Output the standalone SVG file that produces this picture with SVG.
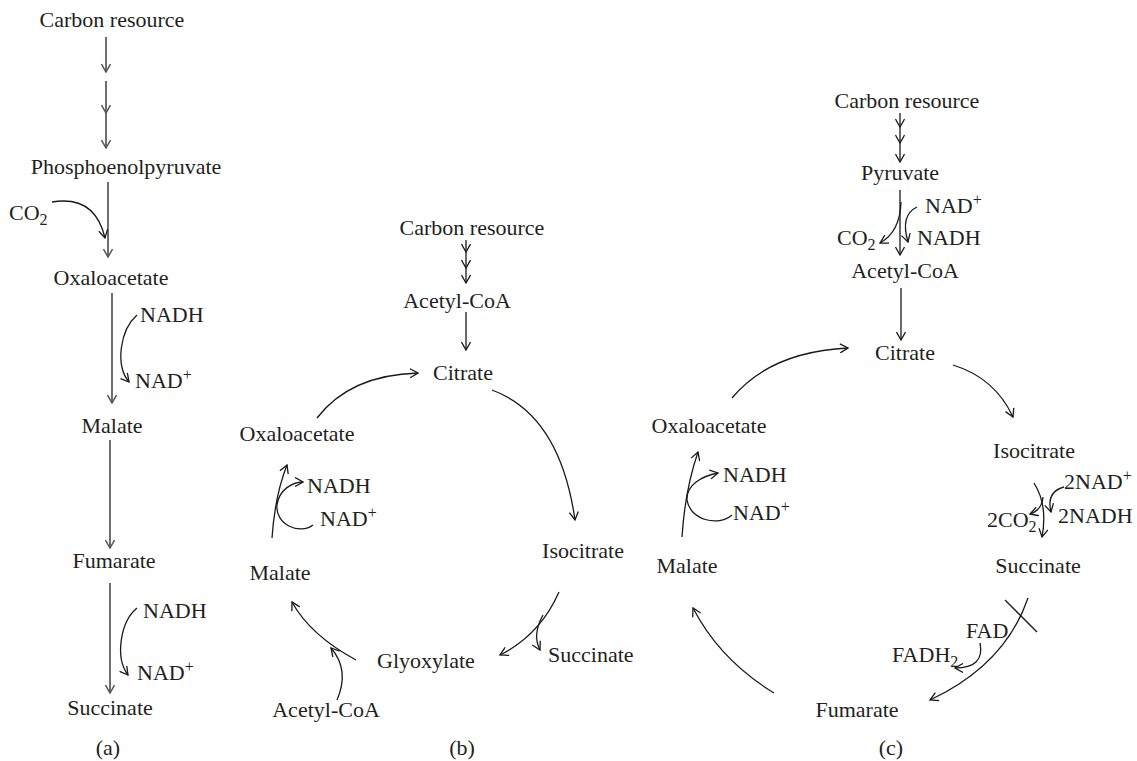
<svg xmlns="http://www.w3.org/2000/svg" width="1137" height="761" viewBox="0 0 1137 761">
<style>
text{font-family:"Liberation Serif","Times New Roman",serif;font-size:22px;fill:#231f20}
.m{text-anchor:middle}
.e{text-anchor:end}
.sub{font-size:16px}
.ln{fill:none;stroke:#1a1a1a;stroke-width:1.3;marker-end:url(#ah)}
.gl{fill:none;stroke:#555;stroke-width:1.7;marker-end:url(#ahg)}
.pl{fill:none;stroke:#1a1a1a;stroke-width:1.3}
</style>
<defs>
<marker id="ah" viewBox="0 0 10 10" markerWidth="10" markerHeight="10" refX="9" refY="5" orient="auto" markerUnits="userSpaceOnUse">
<path d="M1,0.5 L9,5 L1,9.5" fill="none" stroke="#1a1a1a" stroke-width="1.3"/>
</marker>
<marker id="ahg" viewBox="0 0 10 10" markerWidth="10" markerHeight="10" refX="9" refY="5" orient="auto" markerUnits="userSpaceOnUse">
<path d="M1,0.5 L9,5 L1,9.5" fill="none" stroke="#555" stroke-width="1.5"/>
</marker>
</defs>

<g id="connectors">
<!-- panel a -->
<path class="gl" d="M106,37 L106,72"/>
<path class="gl" d="M106,81 L106,113"/>
<path class="gl" d="M106,113 L106,148"/>
<path class="gl" d="M108,182 L108,257"/>
<path class="ln" d="M52,202 Q95,195 105,238"/>
<path class="gl" d="M112,293 L112,403"/>
<path class="ln" d="M137,315 C120,330 115,365 129,382"/>
<path class="gl" d="M110,440 L110,548"/>
<path class="gl" d="M110,583 L110,693"/>
<path class="ln" d="M137,608 C120,622 115,658 128,675"/>
<!-- panel b -->
<path class="ln" d="M466,240 L466,252"/>
<path class="ln" d="M466,252 L466,268"/>
<path class="ln" d="M466,268 L466,283"/>
<path class="ln" d="M466,312 L466,350"/>
<path class="ln" d="M317,418 Q350,375 418,373"/>
<path class="ln" d="M492,390 Q560,415 575,520"/>
<path class="ln" d="M272,538 Q275,495 287,465"/>
<path class="ln" d="M313,525 C300,535 275,525 277,505 C279,490 292,482 303,482"/>
<path class="ln" d="M356,660 Q310,635 292,602"/>
<path class="ln" d="M337,700 Q350,670 331,648"/>
<path class="ln" d="M559,592 Q540,635 500,655"/>
<path class="ln" d="M543,615 Q532,635 540,650"/>
<!-- panel c -->
<path class="ln" d="M900,113 L900,127"/>
<path class="ln" d="M900,127 L900,143"/>
<path class="ln" d="M900,143 L900,162"/>
<path class="ln" d="M900,190 L900,255"/>
<path class="ln" d="M901,202 Q900,232 880,243"/>
<path class="ln" d="M917,207 Q900,215 908,242"/>
<path class="ln" d="M901,288 L901,340"/>
<path class="ln" d="M732,398 Q770,352 848,348"/>
<path class="ln" d="M682,537 Q685,490 698,452"/>
<path class="ln" d="M732,515 C718,527 690,520 687,500 C686,485 702,476 718,473"/>
<path class="ln" d="M953,365 Q995,378 1013,417"/>
<path class="ln" d="M1034,483 Q1048,505 1042,537"/>
<path class="ln" d="M1043,497 Q1042,510 1030,514"/>
<path class="ln" d="M1064,487 Q1046,492 1051,512"/>
<path class="ln" d="M1028,598 Q1005,665 930,700"/>
<path class="pl" d="M1005,600 L1037,632"/>
<path class="ln" d="M980,643 Q985,668 955,668"/>
<path class="ln" d="M774,693 Q720,660 693,608"/>
</g>

<!-- panel a nodes -->
<g id="a-carbon"><text class="m" x="112" y="27">Carbon resource</text></g>
<g id="a-pep"><text class="m" x="126" y="174">Phosphoenolpyruvate</text></g>
<g id="a-co2"><text x="9" y="220">CO<tspan class="sub" dy="5">2</tspan></text></g>
<g id="a-oxa"><text class="m" x="111" y="285">Oxaloacetate</text></g>
<g id="a-nadh1"><text x="140" y="322">NADH</text></g>
<g id="a-nad1"><text x="135" y="388">NAD<tspan class="sub" dy="-8">+</tspan></text></g>
<g id="a-malate"><text class="m" x="112" y="433">Malate</text></g>
<g id="a-fumarate"><text class="m" x="114" y="568">Fumarate</text></g>
<g id="a-nadh2"><text x="143" y="618">NADH</text></g>
<g id="a-nad2"><text x="137" y="680">NAD<tspan class="sub" dy="-8">+</tspan></text></g>
<g id="a-succinate"><text class="m" x="110" y="715">Succinate</text></g>
<g id="a-label"><text class="m" x="108" y="755">(a)</text></g>

<!-- panel b nodes -->
<g id="b-carbon"><text class="m" x="472" y="235">Carbon resource</text></g>
<g id="b-acetyl"><text class="m" x="457" y="308">Acetyl-CoA</text></g>
<g id="b-citrate"><text class="m" x="463" y="380">Citrate</text></g>
<g id="b-oxa"><text class="m" x="297" y="441">Oxaloacetate</text></g>
<g id="b-nadh"><text x="307" y="493">NADH</text></g>
<g id="b-nad"><text x="320" y="526">NAD<tspan class="sub" dy="-8">+</tspan></text></g>
<g id="b-isocitrate"><text class="m" x="583" y="558">Isocitrate</text></g>
<g id="b-malate"><text class="m" x="280" y="580">Malate</text></g>
<g id="b-glyoxylate"><text class="m" x="426" y="668">Glyoxylate</text></g>
<g id="b-succinate"><text x="548" y="662">Succinate</text></g>
<g id="b-acetyl2"><text class="m" x="326" y="717">Acetyl-CoA</text></g>
<g id="b-label"><text class="m" x="462" y="755">(b)</text></g>

<!-- panel c nodes -->
<g id="c-carbon"><text class="m" x="907" y="108">Carbon resource</text></g>
<g id="c-pyruvate"><text class="m" x="900" y="180">Pyruvate</text></g>
<g id="c-nad1"><text x="925" y="213">NAD<tspan class="sub" dy="-8">+</tspan></text></g>
<g id="c-co2"><text x="837" y="245">CO<tspan class="sub" dy="5">2</tspan></text></g>
<g id="c-nadh1"><text x="917" y="245">NADH</text></g>
<g id="c-acetyl"><text class="m" x="905" y="278">Acetyl-CoA</text></g>
<g id="c-citrate"><text class="m" x="905" y="360">Citrate</text></g>
<g id="c-oxa"><text class="m" x="709" y="433">Oxaloacetate</text></g>
<g id="c-nadh2"><text x="723" y="482">NADH</text></g>
<g id="c-nad2"><text x="733" y="520">NAD<tspan class="sub" dy="-8">+</tspan></text></g>
<g id="c-malate"><text class="m" x="687" y="573">Malate</text></g>
<g id="c-isocitrate"><text class="m" x="1034" y="458">Isocitrate</text></g>
<g id="c-2nad"><text x="1064" y="489">2NAD<tspan class="sub" dy="-8">+</tspan></text></g>
<g id="c-2co2"><text x="987" y="527">2CO<tspan class="sub" dy="5">2</tspan></text></g>
<g id="c-2nadh"><text x="1058" y="523">2NADH</text></g>
<g id="c-succinate"><text class="m" x="1038" y="573">Succinate</text></g>
<g id="c-fad"><text x="966" y="638">FAD</text></g>
<g id="c-fadh2"><text x="892" y="662">FADH<tspan class="sub" dy="5">2</tspan></text></g>
<g id="c-fumarate"><text class="m" x="857" y="717">Fumarate</text></g>
<g id="c-label"><text class="m" x="891" y="755">(c)</text></g>
</svg>
